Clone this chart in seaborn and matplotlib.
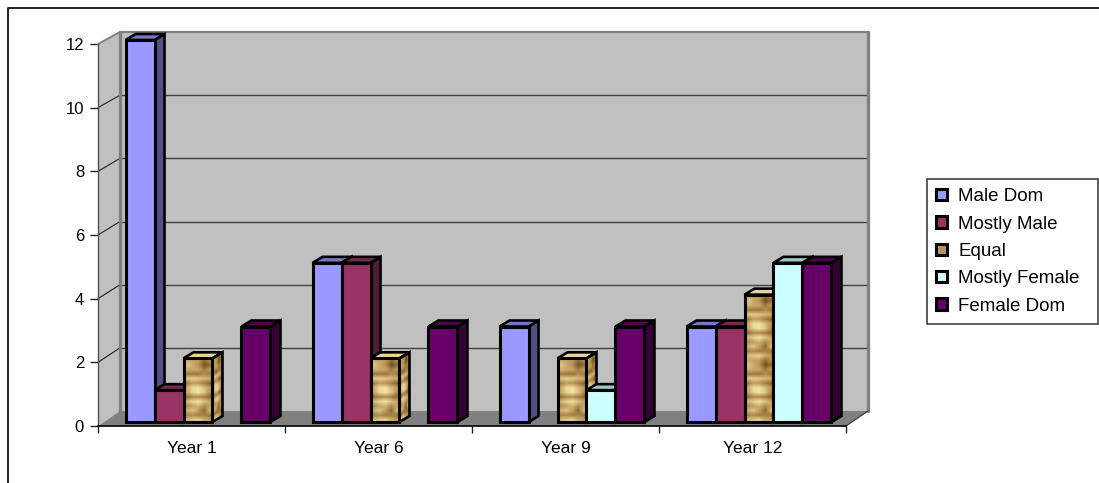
import numpy as np
import pandas as pd
import matplotlib
matplotlib.use("Agg")
import matplotlib.pyplot as plt
import seaborn as sns
from matplotlib.colors import LinearSegmentedColormap, to_rgb
from matplotlib.lines import Line2D
from matplotlib.patches import Polygon, Patch
from matplotlib.transforms import Affine2D, IdentityTransform

# Survey counts per school year and classroom-dominance category
years = ["Year 1", "Year 6", "Year 9", "Year 12"]
categories = ["Male Dom", "Mostly Male", "Equal", "Mostly Female", "Female Dom"]
male_dom = [12, 5, 3, 3]
mostly_male = [1, 5, 0, 3]
equal = [2, 2, 2, 4]
mostly_female = [0, 0, 1, 5]
female_dom = [3, 3, 3, 5]

bar_colors = ["#9999FF", "#993366", "#B8965A", "#CCFFFF", "#660066"]
y_ticks = [0, 2, 4, 6, 8, 10, 12]

# Hand-laid wood grain used on the "Equal" bars (0 dark, 1 light)
GRAIN = np.array([
    [.62, .55, .50, .22, .42],
    [.80, .62, .45, .02, .22],
    [.66, .60, .58, .30, .50],
    [.30, .28, .25, .42, .30],
    [.78, .86, .80, .70, .62],
    [.30, .52, .46, .30, .15],
    [.62, .95, .98, .72, .50],
    [.58, .90, 1.0, .80, .40],
    [.20, .38, .42, .30, .18],
    [.70, .88, .98, .78, .58],
    [.40, .55, .68, .40, .58],
    [.66, .78, .52, .18, .72],
    [.32, .40, .30, .34, .28],
    [.72, .80, .88, .62, .50],
])
grain_cmap = LinearSegmentedColormap.from_list("grain", ["#6E4E18", "#BE9A5C", "#F3E3A6"])

W, H, DPI = 1099, 483, 100
sns.set_theme(style="white", rc={"font.family": ["Liberation Sans", "DejaVu Sans"]})
plt.rcParams["font.family"] = ["Liberation Sans", "DejaVu Sans"]

fig = plt.figure(figsize=(W / DPI, H / DPI), dpi=DPI, facecolor="white")
# Front plane of the chart box, from pixel edges
LEFT, RIGHT, TOP, BOTTOM = 98, 846, 44, 426
ax = fig.add_axes([LEFT / W, 1 - BOTTOM / H, (RIGHT - LEFT) / W, (BOTTOM - TOP) / H])
ax.patch.set_alpha(0)

table = pd.DataFrame(
    {"Male Dom": male_dom, "Mostly Male": mostly_male, "Equal": equal,
     "Mostly Female": mostly_female, "Female Dom": female_dom},
    index=pd.Index(years, name="year"),
).reset_index().melt(id_vars="year", var_name="category", value_name="count")

sns.barplot(data=table, x="year", y="count", hue="category", order=years,
            hue_order=categories, palette=bar_colors, width=0.775, gap=0,
            saturation=1, edgecolor="black", linewidth=2.2, ax=ax, legend=False)
ax.set_xlim(-0.5, 3.5)
ax.set_ylim(0, 12)
ax.set_xlabel("")
ax.set_ylabel("")

# Box depth and the offset of the bars inside it, in display pixels (y up)
WALL_DX, WALL_DY_FLOOR, WALL_DY_ROOF = 22, 15, 12
BAR_DX, BAR_DY = 6.5, 4
DEPTH_DX, DEPTH_DY = 10, 6


def px(x, y):
    return ax.transData.transform((x, y))


def back(x, y):
    """Point on the rear plane of the box, which sits slightly lower at the top."""
    dy = WALL_DY_FLOOR + (WALL_DY_ROOF - WALL_DY_FLOOR) * y / 12
    return px(x, y) + np.array([WALL_DX, dy])


def wall(points, color, z=0.5):
    ax.add_patch(Polygon(points, closed=True, facecolor=color, edgecolor="none",
                         transform=IdentityTransform(), zorder=z, clip_on=False))


def wall_line(p, q, color, lw, z=0.8):
    ax.add_line(Line2D([p[0], q[0]], [p[1], q[1]], color=color, linewidth=lw,
                       transform=IdentityTransform(), zorder=z, clip_on=False))


x_lo, x_hi = -0.5, 3.5
wall([back(x_lo, 0), back(x_hi, 0), back(x_hi, 12), back(x_lo, 12)], "#C0C0C0")
wall([px(x_lo, 0), back(x_lo, 0), back(x_lo, 12), px(x_lo, 12)], "#C0C0C0")
wall([px(x_lo, 0), px(x_hi, 0), back(x_hi, 0), back(x_lo, 0)], "#808080", z=0.6)
for v in y_ticks[1:-1]:
    wall_line(back(x_lo, v), back(x_hi, v), "#404040", 1.0)
    wall_line(px(x_lo, v), back(x_lo, v), "#202020", 0.8)
wall_line(back(x_lo, 12), back(x_hi, 12), "#808080", 1.6)
wall_line(back(x_lo, 0), back(x_lo, 12), "#808080", 2.4)
wall_line(back(x_hi, 0), back(x_hi, 12), "#808080", 2.4)
wall_line(px(x_lo, 12), back(x_lo, 12), "#808080", 1.4)
wall_line(px(x_hi, 0), back(x_hi, 0), "#404040", 0.9, z=0.9)


def shade(color, k):
    return tuple(c * k for c in to_rgb(color))


def textured(corners, data, z, brighten=0.0):
    """Paint the grain onto a parallelogram given by origin, x-end and y-end corners."""
    o, a, b = [np.asarray(c, float) for c in corners]
    mat = np.array([[a[0] - o[0], b[0] - o[0], o[0]],
                    [a[1] - o[1], b[1] - o[1], o[1]],
                    [0, 0, 1]])
    return ax.imshow(data + brighten, cmap=grain_cmap, vmin=0, vmax=1, extent=(0, 1, 0, 1),
                     origin="upper", aspect="auto", interpolation="bilinear",
                     transform=Affine2D(mat), zorder=z, clip_on=False)


offset = Affine2D().translate(BAR_DX, BAR_DY)
shift = ax.transData + offset
depth = np.array([DEPTH_DX, DEPTH_DY])
outline = dict(edgecolor="black", linewidth=1.9, joinstyle="miter",
               transform=IdentityTransform(), clip_on=False)

for s, (name, container) in enumerate(zip(categories, ax.containers)):
    color = bar_colors[s]
    for g, bar in enumerate(container):
        value = bar.get_height()
        if value == 0:
            bar.set_visible(False)
            continue
        z = 2 + g * 10 + s
        bar.set_transform(shift)
        bar.set_clip_on(False)
        bar.set_zorder(z + 0.5)
        x0, x1 = bar.get_x(), bar.get_x() + bar.get_width()
        bl = np.array(shift.transform((x0, 0)))
        br = np.array(shift.transform((x1, 0)))
        tl = np.array(shift.transform((x0, value)))
        tr = np.array(shift.transform((x1, value)))
        side = [br, br + depth, tr + depth, tr]
        top = [tl, tr, tr + depth, tl + depth]
        if name == "Equal":
            ax.add_patch(Polygon(top, facecolor="#EBD3A0", zorder=z + 0.2, **outline))
            tall = np.tile(GRAIN, (max(1, int(value // 2)), 1))
            textured((br, br + depth, tr), tall, z + 0.1, brighten=-0.08)
            ax.add_patch(Polygon(side, facecolor="none", zorder=z + 0.2, **outline))
            textured((bl, br, tl), tall, z + 0.4)
            bar.set_facecolor("none")
            bar.set_zorder(z + 0.6)
        else:
            ax.add_patch(Polygon(side, facecolor=shade(color, 0.52), zorder=z + 0.1, **outline))
            ax.add_patch(Polygon(top, facecolor=shade(color, 0.78), zorder=z + 0.2, **outline))

ax.set_xlim(-0.5, 3.5)
ax.set_ylim(0, 12)

# Axis lines, ticks between the categories and centred labels
sns.despine(ax=ax, top=True, right=True)
ax.spines["left"].set(color="#505050", linewidth=1.0, zorder=1)
ax.spines["bottom"].set(color="black", linewidth=1.2, zorder=1)
ax.set_yticks(y_ticks)
ax.tick_params(axis="y", which="major", length=6, width=1.0, color="#202020", pad=4,
               left=True, labelsize=12, labelcolor="black")
ax.set_xticks(np.arange(-0.5, 4))
ax.set_xticklabels([])
ax.set_xticks(range(4), labels=years, minor=True)
ax.tick_params(axis="x", which="major", length=5, width=1.0, color="#202020", bottom=True)
ax.tick_params(axis="x", which="minor", length=0, pad=11, labelsize=12.5, labelcolor="black")

# Legend box on the right, stretched to its full pixel span
handles = [Patch(facecolor=c, edgecolor="black", linewidth=2.2) for c in bar_colors]
legend = fig.legend(handles, categories, loc="upper left",
                    bbox_to_anchor=(927 / W, 1 - 317 / H, 171 / W, 138 / H),
                    bbox_transform=fig.transFigure, mode="expand", frameon=True,
                    fancybox=False, framealpha=1, edgecolor="#303030", borderaxespad=0,
                    fontsize=13.5, labelspacing=0.55, handlelength=0.55, handleheight=0.55,
                    handletextpad=0.62, borderpad=0.5, labelcolor="black")
legend.get_frame().set_linewidth(1.1)

# Chart-area rule along the top and left edges
fig.add_artist(Line2D([8 / W, 8 / W, 1], [0, 1 - 8 / H, 1 - 8 / H], color="#202020",
                      linewidth=1.4, transform=fig.transFigure))

fig.savefig("out.png", dpi=DPI, facecolor="white")
